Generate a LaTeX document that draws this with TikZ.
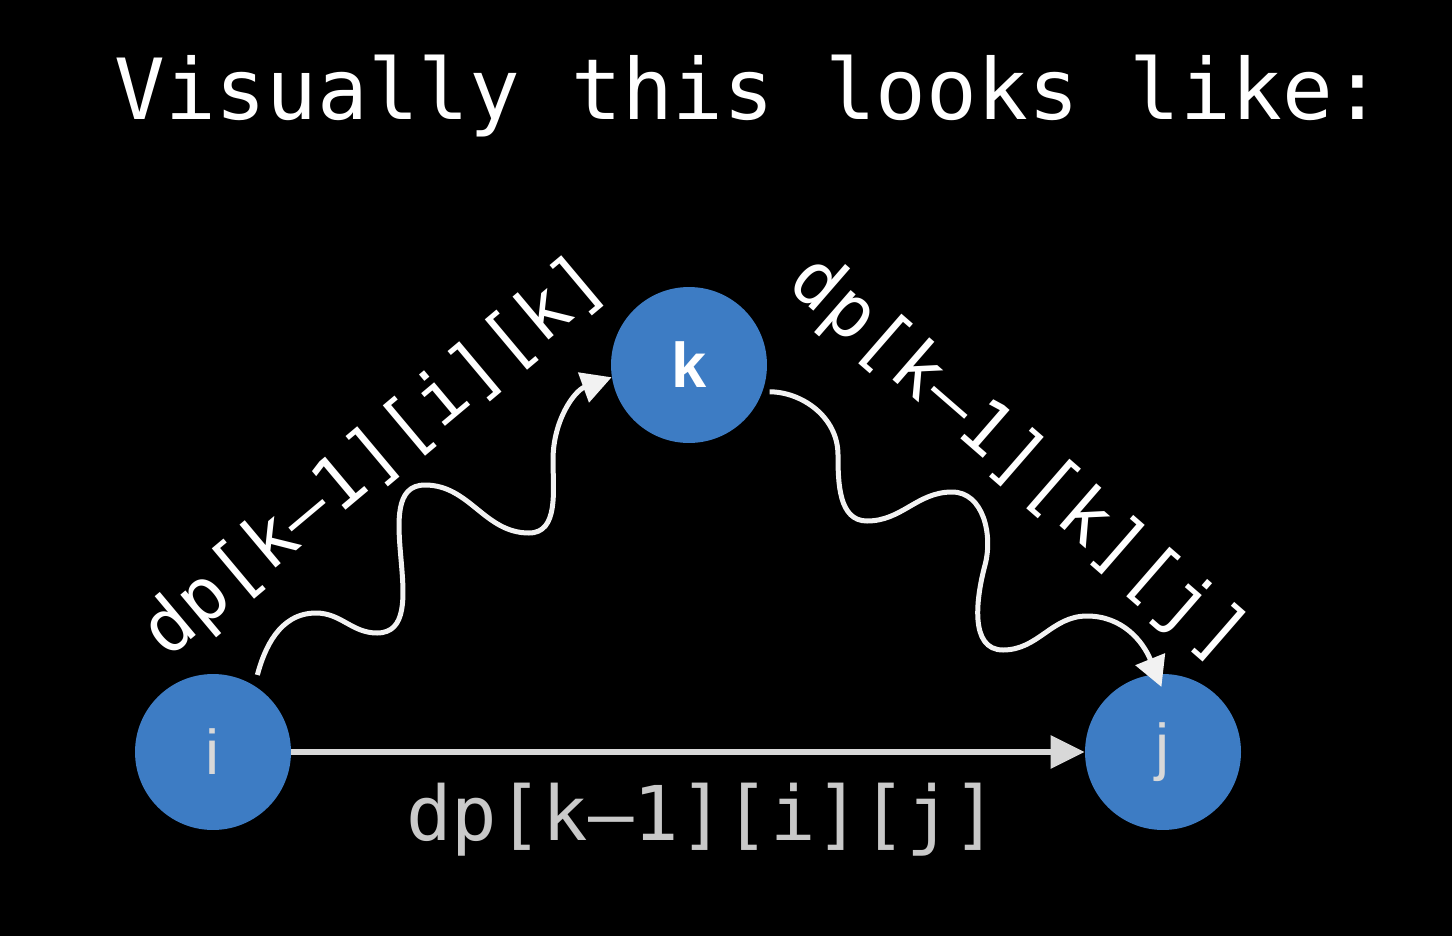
\documentclass[tikz,border=0pt]{standalone}
\usepackage{fontspec}
\setmonofont{DejaVu Sans Mono}
\setsansfont{Liberation Sans}
\usetikzlibrary{arrows.meta}
\definecolor{nodeblue}{HTML}{3D7CC4}
\definecolor{wavewhite}{HTML}{F2F2F2}
\definecolor{flatgray}{HTML}{D8D8D8}
\definecolor{lblgray}{HTML}{C9C9C9}
\tikzset{
	vertex/.style = {circle, fill=nodeblue, minimum size=3.12cm, inner sep=0pt, font=\sffamily\fontsize{36}{38}\selectfont},
	wavy/.style = {draw=wavewhite, line width=0.1cm, -{Triangle[length=0.6cm,width=0.62cm]}},
	flat/.style = {draw=flatgray, line width=0.12cm, -{Triangle[length=0.68cm,width=0.64cm]}},
	lbl/.style = {inner sep=0pt, text=white, font=\ttfamily\fontsize{42}{44}\selectfont}
}
\begin{document}
\begin{tikzpicture}[x = 0.02cm, y = 0.02cm]
	\useasboundingbox (0,0) rectangle (1452,-936);
	\fill [black] (0,0) rectangle (1452,-936);

	\node [inner sep=0pt, anchor=base west, text=white, font=\ttfamily\fontsize{48}{50}\selectfont] (head) at (114,-119) {Visually this looks like:};

	\node [vertex, text=flatgray] (i) at (213,-752) {i};
	\node [vertex, text=white, font=\sffamily\bfseries\fontsize{36}{38}\selectfont] (k) at (689,-365) {k};
	\node [vertex, text=flatgray] (j) at (1163,-752) {j};

	\draw [flat] (i) -- (j);
	\draw [wavy, shorten <=0.22cm] (i.58) to[out=75,in=180] (316,-613) to[out=0,in=180] (377,-633)
		to[out=0,in=180] (425,-485) to[out=0,in=180] (529,-533)
		to[out=0,in=270] (553,-460) to[out=90,in=200] (k.189);
	\draw [wavy, shorten <=0.14cm, shorten >=-0.28cm] (k.-20) to[out=0,in=90] (838,-455) to[out=-90,in=180] (867,-521)
		to[out=0,in=180] (952,-492) to[out=0,in=75] (985,-565) to[out=255,in=180] (1003,-650)
		to[out=0,in=180] (1087,-616) to[out=0,in=112] (j.95);

	\node [lbl, rotate=40] (dik) at (376,-458) {dp[k–1][i][k]};
	\node [lbl, rotate=-41] (dkj) at (1017,-461) {dp[k–1][k][j]};
	\node [lbl, text=lblgray, anchor=base, font=\ttfamily\fontsize{43}{45}\selectfont] (dij) at (702,-840) {dp[k–1][i][j]};
\end{tikzpicture}
\end{document}
